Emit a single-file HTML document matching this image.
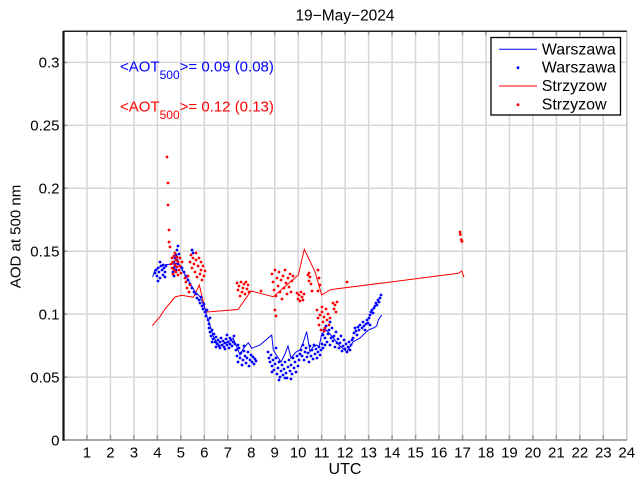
<!DOCTYPE html>
<html>
<head>
<meta charset="utf-8">
<style>
html,body{margin:0;padding:0;background:#fff;}
svg{display:block;}
text{font-family:"Liberation Sans",Arial,sans-serif;}
</style>
</head>
<body>
<svg width="640" height="480" viewBox="0 0 640 480" xmlns="http://www.w3.org/2000/svg">
<rect x="0" y="0" width="640" height="480" fill="#fff"/>
<!-- grid -->
<g stroke="#d6d6d6" stroke-width="1.5" fill="none">
<path d="M86.97 31.3V440M110.44 31.3V440M133.91 31.3V440M157.38 31.3V440M180.85 31.3V440M204.32 31.3V440M227.79 31.3V440M251.26 31.3V440M274.73 31.3V440M298.2 31.3V440M321.67 31.3V440M345.14 31.3V440M368.61 31.3V440M392.08 31.3V440M415.55 31.3V440M439.02 31.3V440M462.49 31.3V440M485.96 31.3V440M509.43 31.3V440M532.9 31.3V440M556.37 31.3V440M579.84 31.3V440M603.31 31.3V440"/>
<path d="M63.5 377.07H626.8M63.5 314.13H626.8M63.5 251.2H626.8M63.5 188.26H626.8M63.5 125.33H626.8M63.5 62.39H626.8"/>
</g>
<!-- ticks -->
<g stroke="#9a9a9a" stroke-width="1.5" fill="none">
<path d="M86.97 440v-5M110.44 440v-5M133.91 440v-5M157.38 440v-5M180.85 440v-5M204.32 440v-5M227.79 440v-5M251.26 440v-5M274.73 440v-5M298.2 440v-5M321.67 440v-5M345.14 440v-5M368.61 440v-5M392.08 440v-5M415.55 440v-5M439.02 440v-5M462.49 440v-5M485.96 440v-5M509.43 440v-5M532.9 440v-5M556.37 440v-5M579.84 440v-5M603.31 440v-5"/>
<path d="M86.97 31.3v4M110.44 31.3v4M133.91 31.3v4M157.38 31.3v4M180.85 31.3v4M204.32 31.3v4M227.79 31.3v4M251.26 31.3v4M274.73 31.3v4M298.2 31.3v4M321.67 31.3v4M345.14 31.3v4M368.61 31.3v4M392.08 31.3v4M415.55 31.3v4M439.02 31.3v4M462.49 31.3v4M485.96 31.3v4M509.43 31.3v4M532.9 31.3v4M556.37 31.3v4M579.84 31.3v4M603.31 31.3v4"/>
<path d="M63.5 377.07h4M63.5 314.13h4M63.5 251.2h4M63.5 188.26h4M63.5 125.33h4M63.5 62.39h4"/>
</g>
<!-- axes -->
<line x1="626.8" y1="31.3" x2="626.8" y2="440" stroke="#c8c8c8" stroke-width="1.5"/>
<line x1="63.5" y1="440" x2="626.8" y2="440" stroke="#8a8a8a" stroke-width="1.5"/>
<line x1="63.5" y1="31.3" x2="626.8" y2="31.3" stroke="#222" stroke-width="1.5"/>
<line x1="63.5" y1="31" x2="63.5" y2="440.7" stroke="#111" stroke-width="2.2"/>

<!-- data lines -->
<path fill="none" stroke="#ff0000" stroke-width="1" d="M152.3 325.7L160 316.7L165 309L175 297L181.7 295.3L193.3 297.3L199.3 285L205 309L207 312L238 309.5L251 291L260 293.3L273.3 296.7L298.3 275L304.3 249.3L315 271.7L321.7 295L330 290L333.3 289.3L458.3 273.3L461.7 271L464 277.3"/>
<path fill="none" stroke="#0000ff" stroke-width="1" d="M152.7 277L155 270L158 268L162.7 265L172.7 264L178.3 263.3L183.3 271.7L195 291.7L200 296.7L205 308.3L207 317L210 325L213 336L216 341L220 346L225 343L230 341L233 338L236.7 346.7L240 355L243 349L248.3 342.7L251.7 348.3L260 345L271.7 335L273.3 350L277 356L281 362L285 354L288 346L291 358L296 352L300 350L303 343L306.7 331.7L310 351.7L313 347L316.7 345L319 347L321.7 334L326 330L330 334L335 340L340 346L346.7 351.7L353.3 341.7L360 338L368.3 330L373.3 328L376.7 326L378.3 320L381.7 315"/>

<!-- blue dots -->
<path fill="none" stroke="#0000ff" stroke-width="2.8" stroke-linecap="round" d="M155 273h0M156 270h0M157 276h0M158 268h0M159 272h0M160 278h0M161 266h0M162 270h0M163 275h0M163 265h0M164 268h0M165 272h0M165 277h0M166 266h0M160 262h0M158 281h0
M173 272h0M174 268h0M174 262h0M175 258h0M175 266h0M176 255h0M176 270h0M177 250h0M177 260h0M178 246h0M178 264h0M179 254h0M180 258h0M181 267h0M174 276h0M192 250h0M193 253h0
M182 268h0M184 272h0M186 276h0M188 280h0M190 284h0M192 288h0M194 292h0M196 294h0M197 298h0M199 300h0M200 303h0M201 297h0M202 306h0M203 309h0M204 304h0M205 312h0M206 316h0M207 310h0M208 320h0M209 324h0M210 318h0
M209 328h0M210 332h0M211 336h0M212 330h0M213 339h0M214 334h0M215 342h0M216 337h0M217 344h0M218 340h0M219 346h0M220 342h0M221 338h0M222 345h0M223 341h0M224 347h0M225 343h0M226 339h0M227 345h0M228 342h0M229 348h0M230 344h0M231 340h0M232 346h0M233 342h0M234 336h0M235 344h0M212 342h0M216 347h0M220 348h0M225 349h0M230 338h0M227 335h0
M236 350h0M237 356h0M238 362h0M239 348h0M240 358h0M241 353h0M242 365h0M243 360h0M244 351h0M245 356h0M246 363h0M247 358h0M248 352h0M249 366h0M250 360h0M251 355h0M252 362h0M253 357h0M254 364h0M255 359h0M256 361h0M238 345h0M244 346h0
M268 352h0M269 358h0M270 362h0M271 355h0M272 366h0M273 360h0M274 370h0M275 364h0M276 358h0M277 374h0M278 368h0M279 362h0M280 377h0M281 371h0M282 365h0M283 375h0M284 369h0M285 362h0M286 373h0M287 378h0M288 367h0M289 360h0M290 371h0M291 365h0M292 374h0M293 358h0M294 368h0M295 362h0M296 372h0M297 356h0M298 366h0M299 360h0M300 354h0M279 380h0M285 378h0M272 372h0M291 379h0M276 348h0
M301 350h0M302 356h0M303 345h0M304 360h0M305 352h0M306 348h0M307 357h0M308 353h0M309 362h0M310 346h0M311 356h0M312 350h0M313 359h0M314 345h0M315 354h0M316 349h0M317 358h0M318 352h0M319 347h0M320 355h0M321 350h0M322 344h0M323 348h0
M323 335h0M324 330h0M325 338h0M326 326h0M327 342h0M328 334h0M329 330h0M330 345h0M331 338h0M332 328h0M333 341h0M334 336h0M335 347h0M336 332h0M337 343h0M338 339h0M339 348h0M340 343h0M341 336h0M342 351h0M343 346h0M344 340h0M345 349h0M346 344h0M347 352h0M348 347h0M349 342h0M350 350h0M351 345h0M352 340h0M353 338h0M325 345h0M330 322h0
M354 333h0M355 328h0M356 331h0M358 327h0M359 330h0M360 325h0M362 328h0M363 322h0M364 326h0M366 324h0M367 320h0M368 323h0M369 318h0M370 315h0M371 312h0M372 310h0M373 313h0M374 308h0M375 306h0M376 303h0M377 305h0M378 300h0M379 302h0M380 298h0M381 295h0M357 335h0M365 330h0M370 325h0"/>

<!-- red dots -->
<path fill="none" stroke="#ff0000" stroke-width="2.8" stroke-linecap="round" d="M167 157h0M168 183h0M168 205h0M169 230h0M169 242h0M170 247h0
M171 264h0M172 258h0M172 268h0M173 262h0M174 256h0M174 270h0M175 265h0M176 260h0M176 272h0M177 267h0M178 262h0M179 270h0M180 258h0M180 266h0M181 273h0M182 262h0M173 274h0M178 275h0M175 253h0M177 257h0
M185 278h0M186 282h0M187 288h0M188 276h0M189 292h0M190 285h0
M190 262h0M191 255h0M192 268h0M193 258h0M194 264h0M195 272h0M196 260h0M197 277h0M198 266h0M199 258h0M200 274h0M201 270h0M202 280h0M203 266h0M204 276h0M205 271h0M196 253h0M201 262h0
M237 283h0M238 290h0M239 286h0M240 296h0M241 282h0M242 292h0M243 288h0M244 284h0M245 294h0M246 282h0M247 289h0M248 285h0M249 292h0M261 291h0
M272 274h0M273 282h0M274 290h0M275 270h0M276 296h0M277 278h0M278 286h0M279 272h0M280 292h0M281 280h0M282 299h0M283 276h0M284 288h0M285 270h0M286 283h0M287 294h0M288 278h0M289 287h0M290 274h0M291 292h0M292 281h0M293 276h0M275 310h0M276 316h0
M297 293h0M298 299h0M299 295h0M300 301h0M301 292h0M302 297h0M303 300h0M304 294h0
M308 275h0M309 281h0M310 277h0M311 284h0M312 291h0M309 273h0M318 270h0M319 278h0M320 285h0M318 291h0
M317 310h0M318 318h0M319 325h0M320 315h0M321 330h0M322 312h0M323 322h0M324 317h0M325 328h0M326 309h0M327 320h0M328 314h0M329 325h0M330 318h0M322 307h0M324 331h0
M333 303h0M334 309h0M335 305h0M336 312h0M337 302h0M347 282h0
M460 232h0M460.3 234.5h0M461.3 239.7h0M462 241.5h0"/>

<!-- AOT annotations -->
<text x="120" y="71.7" font-size="15" fill="#0000ff">&lt;AOT<tspan font-size="12" dy="7.3">500</tspan><tspan dy="-7.3">&gt;= 0.09 (0.08)</tspan></text>
<text x="120" y="111.7" font-size="15" fill="#ff0000">&lt;AOT<tspan font-size="12" dy="7.3">500</tspan><tspan dy="-7.3">&gt;= 0.12 (0.13)</tspan></text>

<!-- legend -->
<rect x="491" y="37.5" width="129.5" height="77.5" fill="#fff" stroke="#000" stroke-width="1.3"/>
<line x1="499" y1="49.3" x2="537" y2="49.3" stroke="#0000ff" stroke-width="1"/>
<circle cx="518" cy="67.7" r="1.4" fill="#0000ff"/>
<line x1="499" y1="86" x2="537" y2="86" stroke="#ff0000" stroke-width="1"/>
<circle cx="518" cy="104.7" r="1.4" fill="#ff0000"/>
<g font-size="16" fill="#000">
<text x="541.7" y="54.3">Warszawa</text>
<text x="541.7" y="72.7">Warszawa</text>
<text x="541.7" y="91">Strzyzow</text>
<text x="541.7" y="109.4">Strzyzow</text>
</g>

<!-- y tick labels -->
<g font-size="15" fill="#000" text-anchor="end">
<text x="59.5" y="445.3">0</text>
<text x="59.5" y="382.4">0.05</text>
<text x="59.5" y="319.4">0.1</text>
<text x="59.5" y="256.5">0.15</text>
<text x="59.5" y="193.6">0.2</text>
<text x="59.5" y="130.6">0.25</text>
<text x="59.5" y="67.7">0.3</text>
</g>
<!-- x tick labels -->
<g font-size="15" fill="#000" text-anchor="middle">
<text x="86.97" y="457.7">1</text>
<text x="110.44" y="457.7">2</text>
<text x="133.91" y="457.7">3</text>
<text x="157.38" y="457.7">4</text>
<text x="180.85" y="457.7">5</text>
<text x="204.32" y="457.7">6</text>
<text x="227.79" y="457.7">7</text>
<text x="251.26" y="457.7">8</text>
<text x="274.73" y="457.7">9</text>
<text x="298.2" y="457.7">10</text>
<text x="321.67" y="457.7">11</text>
<text x="345.14" y="457.7">12</text>
<text x="368.61" y="457.7">13</text>
<text x="392.08" y="457.7">14</text>
<text x="415.55" y="457.7">15</text>
<text x="439.02" y="457.7">16</text>
<text x="462.49" y="457.7">17</text>
<text x="485.96" y="457.7">18</text>
<text x="509.43" y="457.7">19</text>
<text x="532.9" y="457.7">20</text>
<text x="556.37" y="457.7">21</text>
<text x="579.84" y="457.7">22</text>
<text x="603.31" y="457.7">23</text>
<text x="626.78" y="457.7">24</text>
</g>

<!-- axis labels and title -->
<text x="345" y="474" font-size="16" text-anchor="middle" fill="#000">UTC</text>
<text transform="translate(20.5,236.5) rotate(-90)" font-size="15" text-anchor="middle" fill="#000">AOD at 500 nm</text>
<text x="345" y="20.7" font-size="15.5" text-anchor="middle" fill="#000">19−May−2024</text>
</svg>
</body>
</html>
